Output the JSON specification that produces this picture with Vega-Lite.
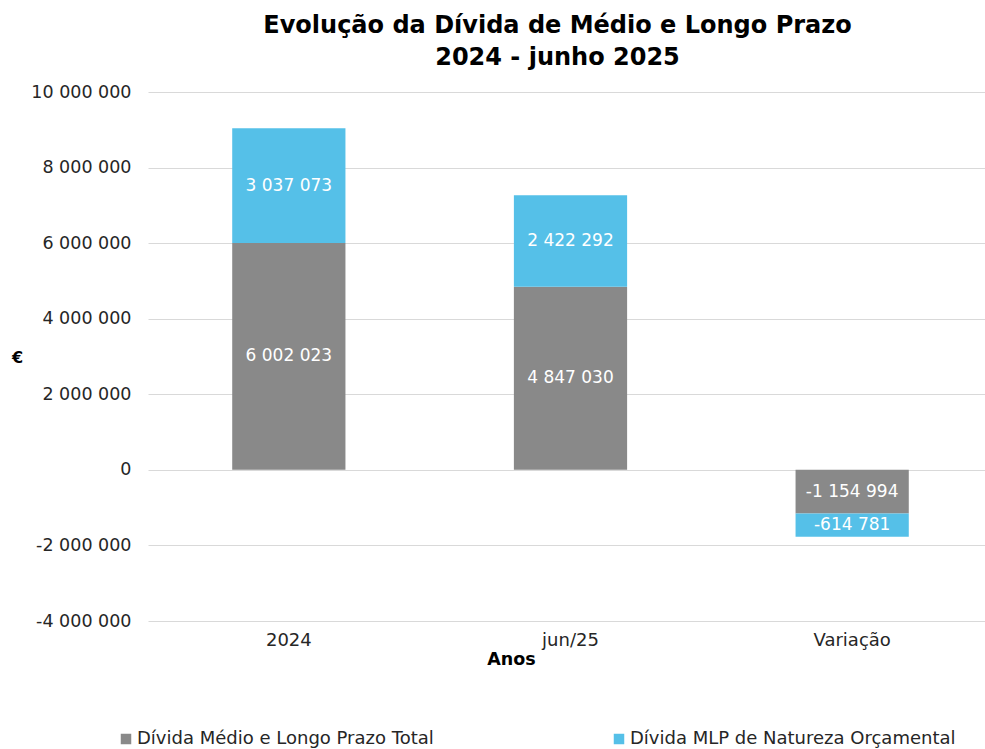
{
  "$schema": "https://vega.github.io/schema/vega-lite/v6.json",
  "width": 845,
  "height": 529,
  "autosize": {"type": "none"},
  "padding": {"left": 148, "top": 92, "right": 0, "bottom": 128},
  "background": "white",
  "title": {
    "text": ["Evolução da Dívida de Médio e Longo Prazo", "2024 - junho 2025"],
    "font": "DejaVu Sans",
    "fontSize": 24,
    "fontWeight": "bold",
    "color": "#000000",
    "anchor": "middle",
    "lineHeight": 32,
    "offset": 13,
    "dx": -13
  },
  "config": {
    "locale": {"number": {"decimal": ",", "thousands": " ", "grouping": [3], "currency": ["", ""], "minus": "-"}},
    "view": {"stroke": null},
    "font": "DejaVu Sans"
  },
  "data": {
    "values": [
      {"periodo": "2024", "serie": "Dívida Médio e Longo Prazo Total", "ordem": 1, "valor": 6002023},
      {"periodo": "2024", "serie": "Dívida MLP de Natureza Orçamental", "ordem": 2, "valor": 3037073},
      {"periodo": "jun/25", "serie": "Dívida Médio e Longo Prazo Total", "ordem": 1, "valor": 4847030},
      {"periodo": "jun/25", "serie": "Dívida MLP de Natureza Orçamental", "ordem": 2, "valor": 2422292},
      {"periodo": "Variação", "serie": "Dívida Médio e Longo Prazo Total", "ordem": 1, "valor": -1154994},
      {"periodo": "Variação", "serie": "Dívida MLP de Natureza Orçamental", "ordem": 2, "valor": -614781}
    ]
  },
  "encoding": {
    "x": {
      "field": "periodo",
      "type": "nominal",
      "sort": ["2024", "jun/25", "Variação"],
      "scale": {"paddingInner": 0, "paddingOuter": 0},
      "axis": {
        "title": "Anos",
        "titleFont": "DejaVu Sans",
        "titleFontSize": 17.5,
        "titleFontWeight": "bold",
        "titleColor": "#000000",
        "titleX": 363,
        "titleY": 38,
        "titleBaseline": "middle",
        "titleAlign": "center",
        "labelAngle": 0,
        "labelFontSize": 18,
        "labelColor": "#262626",
        "labelPadding": 10,
        "domain": false,
        "ticks": false,
        "grid": false
      }
    }
  },
  "layer": [
    {
      "mark": {"type": "bar", "width": {"band": 0.402}},
      "encoding": {
        "y": {
          "field": "valor",
          "type": "quantitative",
          "stack": "zero",
          "scale": {"domain": [-4000000, 10000000], "nice": false},
          "axis": {
            "values": [-4000000, -2000000, 0, 2000000, 4000000, 6000000, 8000000, 10000000],
            "format": ",d",
            "title": "€",
            "titleAngle": 0,
            "titleFontSize": 16,
            "titleFontWeight": "bold",
            "titleColor": "#000000",
            "titleX": -131,
            "titleY": 265,
            "titleAlign": "center",
            "titleBaseline": "middle",
            "labelFontSize": 17.5,
            "labelColor": "#262626",
            "labelPadding": 17,
            "domain": false,
            "ticks": false,
            "gridColor": "#d9d9d9",
            "gridWidth": 1
          }
        },
        "order": {"field": "ordem", "type": "quantitative", "sort": "ascending"},
        "color": {
          "field": "serie",
          "type": "nominal",
          "scale": {
            "domain": ["Dívida Médio e Longo Prazo Total", "Dívida MLP de Natureza Orçamental"],
            "range": ["#898989", "#55c0e8"]
          },
          "legend": {
            "title": null,
            "orient": "none",
            "direction": "horizontal",
            "columns": 2,
            "legendX": -31,
            "legendY": 638,
            "symbolType": "square",
            "symbolSize": 110,
            "symbolStrokeWidth": 0,
            "labelFontSize": 18,
            "labelColor": "#262626",
            "labelOffset": 2,
            "labelLimit": 500,
            "columnPadding": 176
          }
        }
      }
    },
    {
      "transform": [
        {"stack": "valor", "groupby": ["periodo"], "sort": [{"field": "ordem", "order": "ascending"}], "as": ["v0", "v1"], "offset": "zero"},
        {"calculate": "(datum.v0 + datum.v1) / 2", "as": "meio"}
      ],
      "mark": {"type": "text", "color": "white", "fontSize": 17, "baseline": "middle", "align": "center"},
      "encoding": {
        "y": {"field": "meio", "type": "quantitative"},
        "text": {"field": "valor", "type": "quantitative", "format": ",d"}
      }
    }
  ]
}
